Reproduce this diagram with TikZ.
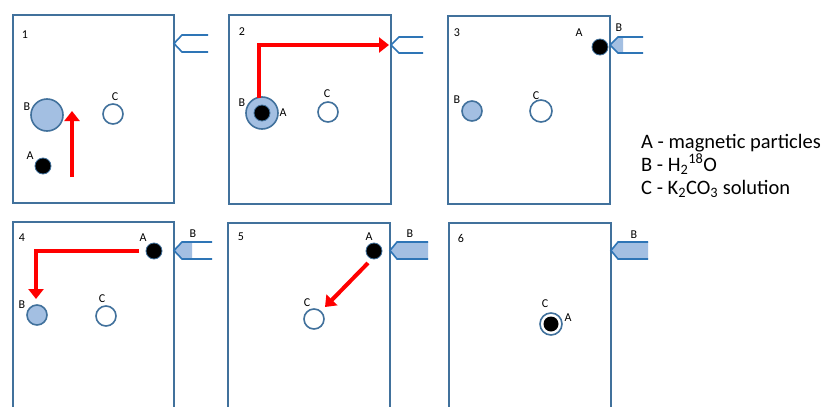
\documentclass[tikz,border=0pt]{standalone}
\usepackage{fontspec}
\setmainfont{Carlito}
\usetikzlibrary{arrows.meta}
\definecolor{boxblue}{HTML}{41719C}
\definecolor{nozblue}{HTML}{2E75B6}
\definecolor{hatchblue}{HTML}{A3BFE2}
\definecolor{arrred}{HTML}{FF0000}
\tikzset{
  panel/.style={draw=boxblue, line width=1.6pt},
  nozzle/.style={draw=nozblue, line width=1.6pt},
  nozfill/.style={fill=hatchblue},
  lbl/.style={inner sep=0pt, font=\fontsize{12}{14}\selectfont},
  legend/.style={inner sep=0pt, anchor=base west, font=\fontsize{20.5}{24}\selectfont},
  bigB/.style={circle, draw=boxblue, line width=1.6pt, fill=hatchblue, minimum size=32pt, inner sep=0pt},
  smallB/.style={circle, draw=boxblue, line width=1.6pt, fill=hatchblue, minimum size=20pt, inner sep=0pt},
  solC/.style={circle, draw=boxblue, line width=1.6pt, fill=white, minimum size=20pt, inner sep=0pt},
  ballA/.style={circle, draw=boxblue, line width=0.8pt, fill=black, minimum size=16pt, inner sep=0pt},
  redarrow/.style={draw=arrred, line width=4pt, -{Triangle[width=15pt,length=10pt]}},
}
\begin{document}
\begin{tikzpicture}[x=1pt,y=-1pt]
\clip (0,0) rectangle (823,407);
\fill[white] (0,0) rectangle (823,407);

% ---------- panel boxes ----------
\draw[panel] (13,15) rectangle (174,203);
\draw[panel] (229,15) rectangle (391,204);
\draw[panel] (448,16) rectangle (610,204);
\draw[panel] (13,222) rectangle (174,415);
\draw[panel] (228,223) rectangle (390,415);
\draw[panel] (449,223) rectangle (611,415);

% ---------- nozzles ----------
% panel 1
\draw[nozzle] (208,35) -- (182,35) -- (174,43.5) -- (182,52) -- (208,52);
% panel 2
\draw[nozzle] (423,37) -- (399,37) -- (391,45) -- (399,53) -- (423,53);
% panel 3 (droplet in tip)
\fill[nozfill] (610,45) -- (618,37) -- (623,37) -- (623,53) -- (618,53) -- cycle;
\draw[nozzle] (643,37) -- (618,37) -- (610,45) -- (618,53) -- (643,53);
% panel 4
\fill[nozfill] (174,250.5) -- (182,242) -- (192,242) -- (192,259) -- (182,259) -- cycle;
\draw[nozzle] (212,242) -- (182,242) -- (174,250.5) -- (182,259) -- (212,259);
% panel 5
\fill[nozfill] (390,250.5) -- (397,242) -- (428,242) -- (428,259) -- (397,259) -- cycle;
\draw[nozzle] (428,242) -- (397,242) -- (390,250.5) -- (397,259) -- (428,259);
% panel 6
\fill[nozfill] (611,250.5) -- (618,242) -- (648,242) -- (648,259) -- (618,259) -- cycle;
\draw[nozzle] (648,242) -- (618,242) -- (611,250.5) -- (618,259) -- (648,259);

% ---------- panel 1 ----------
\node[lbl] (n1) at (25,35) {1};
\node[bigB] (b1) at (47,115) {};
\node[lbl] (lb1) at (27,107) {B};
\node[solC] (c1) at (113,114) {};
\node[lbl] (lc1) at (115,97) {C};
\node[ballA] (a1) at (43,166) {};
\node[lbl] (la1) at (30,156) {A};
\coordinate (r1s) at (72,177);
\coordinate (r1e) at (72,111);
\draw[redarrow] (r1s) -- (r1e);

% ---------- panel 2 ----------
\node[lbl] (n2) at (242,32) {2};
\node[bigB] (b2) at (262,113) {};
\node[ballA] (a2) at (262,113) {};
\node[lbl] (lb2) at (242,103) {B};
\node[lbl] (la2) at (283,113) {A};
\node[solC] (c2) at (328,112) {};
\node[lbl] (lc2) at (327,94) {C};
\coordinate (r2s) at (259,98);
\coordinate (r2e) at (389,45);
\draw[redarrow] (r2s) |- (r2e);

% ---------- panel 3 ----------
\node[lbl] (n3) at (457,33) {3};
\node[ballA] (a3) at (600,47) {};
\node[lbl] (la3) at (579,33) {A};
\node[lbl] (lbn3) at (619,28) {B};
\node[smallB] (b3) at (472,111) {};
\node[lbl] (lb3) at (457,100) {B};
\node[solC, minimum size=22pt] (c3) at (541,111) {};
\node[lbl] (lc3) at (536,96) {C};

% ---------- panel 4 ----------
\node[lbl] (n4) at (22,238) {4};
\node[ballA] (a4) at (154,251) {};
\node[lbl] (la4) at (143,238) {A};
\node[lbl] (lbn4) at (193,234) {B};
\node[smallB] (b4) at (37,315) {};
\node[lbl] (lb4) at (22,305) {B};
\node[solC] (c4) at (106,316) {};
\node[lbl] (lc4) at (102,299) {C};
\coordinate (r4s) at (139,251);
\coordinate (r4e) at (36,299);
\draw[redarrow] (r4s) -| (r4e);

% ---------- panel 5 ----------
\node[lbl] (n5) at (241,237) {5};
\node[ballA] (a5) at (374,251) {};
\node[lbl] (la5) at (369,237) {A};
\node[lbl] (lbn5) at (410,234) {B};
\node[solC] (c5) at (314,319) {};
\node[lbl] (lc5) at (307,303) {C};
\coordinate (r5s) at (368,263);
\coordinate (r5e) at (325,307);
\draw[redarrow] (r5s) -- (r5e);

% ---------- panel 6 ----------
\node[lbl] (n6) at (461,238) {6};
\node[lbl] (lbn6) at (634,235) {B};
\node[solC, minimum size=22pt] (c6) at (551,324) {};
\node[ballA, draw=none, minimum size=15pt] (a6) at (551,324) {};
\node[lbl] (lc6) at (545,304) {C};
\node[lbl] (la6) at (568,318) {A};

% ---------- legend ----------
\node[legend] (legA) at (641,148) {A - magnetic particles};
\node[legend] (legB) at (641,171) {B - H\textsubscript{2}\textsuperscript{18}O};
\node[legend] (legC) at (641,194) {C - K\textsubscript{2}CO\textsubscript{3} solution};
\end{tikzpicture}
\end{document}
